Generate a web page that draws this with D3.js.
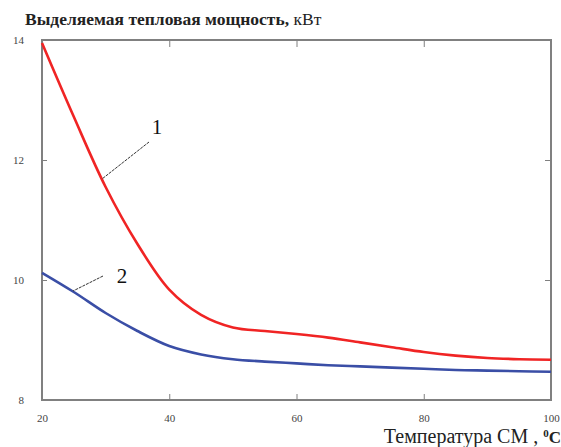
<!DOCTYPE html>
<html>
<head>
<meta charset="utf-8">
<script src="https://cdn.jsdelivr.net/npm/d3@7"></script>
<style>
  body { margin: 0; background: #fff; }
  svg { display: block; }
  .axis path, .axis line { stroke: #808080; }
</style>
</head>
<body>
<div id="main"></div>
<script>
//data
const temps = [20, 25, 30, 35, 40, 45, 50, 55, 60, 65, 70, 75, 80, 85, 90, 95, 100];
const curve1 = [13.95, 12.72, 11.55, 10.6, 9.84, 9.42, 9.21, 9.15, 9.1, 9.04, 8.96, 8.88, 8.8, 8.74, 8.7, 8.68, 8.67];
const curve2 = [10.12, 9.8, 9.45, 9.15, 8.9, 8.76, 8.68, 8.64, 8.61, 8.58, 8.56, 8.54, 8.52, 8.5, 8.49, 8.48, 8.47];
const xTicks = [20, 40, 60, 80, 100];
const yTicks = [8, 10, 12, 14];

//constants
const W = 561, H = 447;
const plot = {left: 42, right: 551, top: 40, bottom: 400};
const serif = "'Liberation Serif', 'Times New Roman', serif";

const x = d3.scaleLinear().domain([20, 100]).range([plot.left, plot.right]);
const y = d3.scaleLinear().domain([8, 14]).range([plot.bottom, plot.top]);

const svg = d3.select('#main')
  .append('svg')
  .attr('width', W)
  .attr('height', H);

// frame
svg.append('rect')
  .attr('x', plot.left).attr('y', plot.top)
  .attr('width', plot.right - plot.left).attr('height', plot.bottom - plot.top)
  .attr('fill', 'none')
  .attr('stroke', '#808080')
  .attr('stroke-width', 2);

function styleAxis(g) {
  g.attr('font-family', serif).attr('font-size', 11);
  g.select('.domain').remove();
  g.selectAll('text').attr('fill', '#444');
}

// axes with inner ticks
svg.append('g')
  .attr('class', 'axis')
  .attr('transform', `translate(0, ${plot.bottom})`)
  .call(d3.axisBottom(x).tickValues(xTicks).tickSize(-6).tickPadding(14).tickFormat(d3.format('d')))
  .call(styleAxis);

svg.append('g')
  .attr('class', 'axis')
  .attr('transform', `translate(0, ${plot.top})`)
  .call(d3.axisTop(x).tickValues(xTicks.slice(1, -1)).tickSize(-7).tickFormat(''))
  .call(styleAxis);

svg.append('g')
  .attr('class', 'axis')
  .attr('transform', `translate(${plot.left}, 0)`)
  .call(d3.axisLeft(y).tickValues(yTicks).tickSize(-5).tickPadding(18).tickFormat(d3.format('d')))
  .call(styleAxis)
  .call(g => g.selectAll('.tick line').filter(d => d === 8 || d === 14).remove());

svg.append('g')
  .attr('class', 'axis')
  .attr('transform', `translate(${plot.right}, 0)`)
  .call(d3.axisRight(y).tickValues([10, 12]).tickSize(-6).tickFormat(''))
  .call(styleAxis);

// curves
const line = d3.line()
  .x((d, i) => x(temps[i]))
  .y(d => y(d))
  .curve(d3.curveCatmullRom.alpha(0.5));

svg.append('path')
  .datum(curve1)
  .attr('d', line)
  .attr('fill', 'none')
  .attr('stroke', '#f02424')
  .attr('stroke-width', 2.6);

svg.append('path')
  .datum(curve2)
  .attr('d', line)
  .attr('fill', 'none')
  .attr('stroke', '#3a4ea6')
  .attr('stroke-width', 2.6);

// curve labels with leader lines
const labels = [
  {t: '1', lx: 157, ly: 134, from: [149, 142], to: [102, 179]},
  {t: '2', lx: 122, ly: 283, from: [103, 276], to: [73, 291]}
];
labels.forEach(l => {
  svg.append('line')
    .attr('x1', l.from[0]).attr('y1', l.from[1])
    .attr('x2', l.to[0]).attr('y2', l.to[1])
    .attr('stroke', '#333')
    .attr('stroke-width', 1)
    .attr('stroke-dasharray', '3,1');
  svg.append('text')
    .attr('x', l.lx).attr('y', l.ly)
    .attr('text-anchor', 'middle')
    .attr('font-family', serif)
    .attr('font-size', 21)
    .attr('fill', '#111')
    .text(l.t);
});

// title
const title = svg.append('text')
  .attr('x', 25).attr('y', 25)
  .attr('font-family', serif)
  .attr('fill', '#222');
title.append('tspan')
  .attr('font-weight', 'bold')
  .attr('font-size', 17.5)
  .text('Выделяемая тепловая мощность, ');
title.append('tspan')
  .attr('font-size', 17.5)
  .text('кВт');

// x label
const xl = svg.append('text')
  .attr('x', 561).attr('y', 443)
  .attr('text-anchor', 'end')
  .attr('font-family', serif)
  .attr('fill', '#222');
xl.append('tspan')
  .attr('font-size', 20)
  .text('Температура СМ , ');
xl.append('tspan')
  .attr('font-size', 11)
  .attr('font-weight', 'bold')
  .attr('dy', -6)
  .text('0');
xl.append('tspan')
  .attr('font-size', 17)
  .attr('font-weight', 'bold')
  .attr('dy', 6)
  .text('C');
</script>
</body>
</html>
